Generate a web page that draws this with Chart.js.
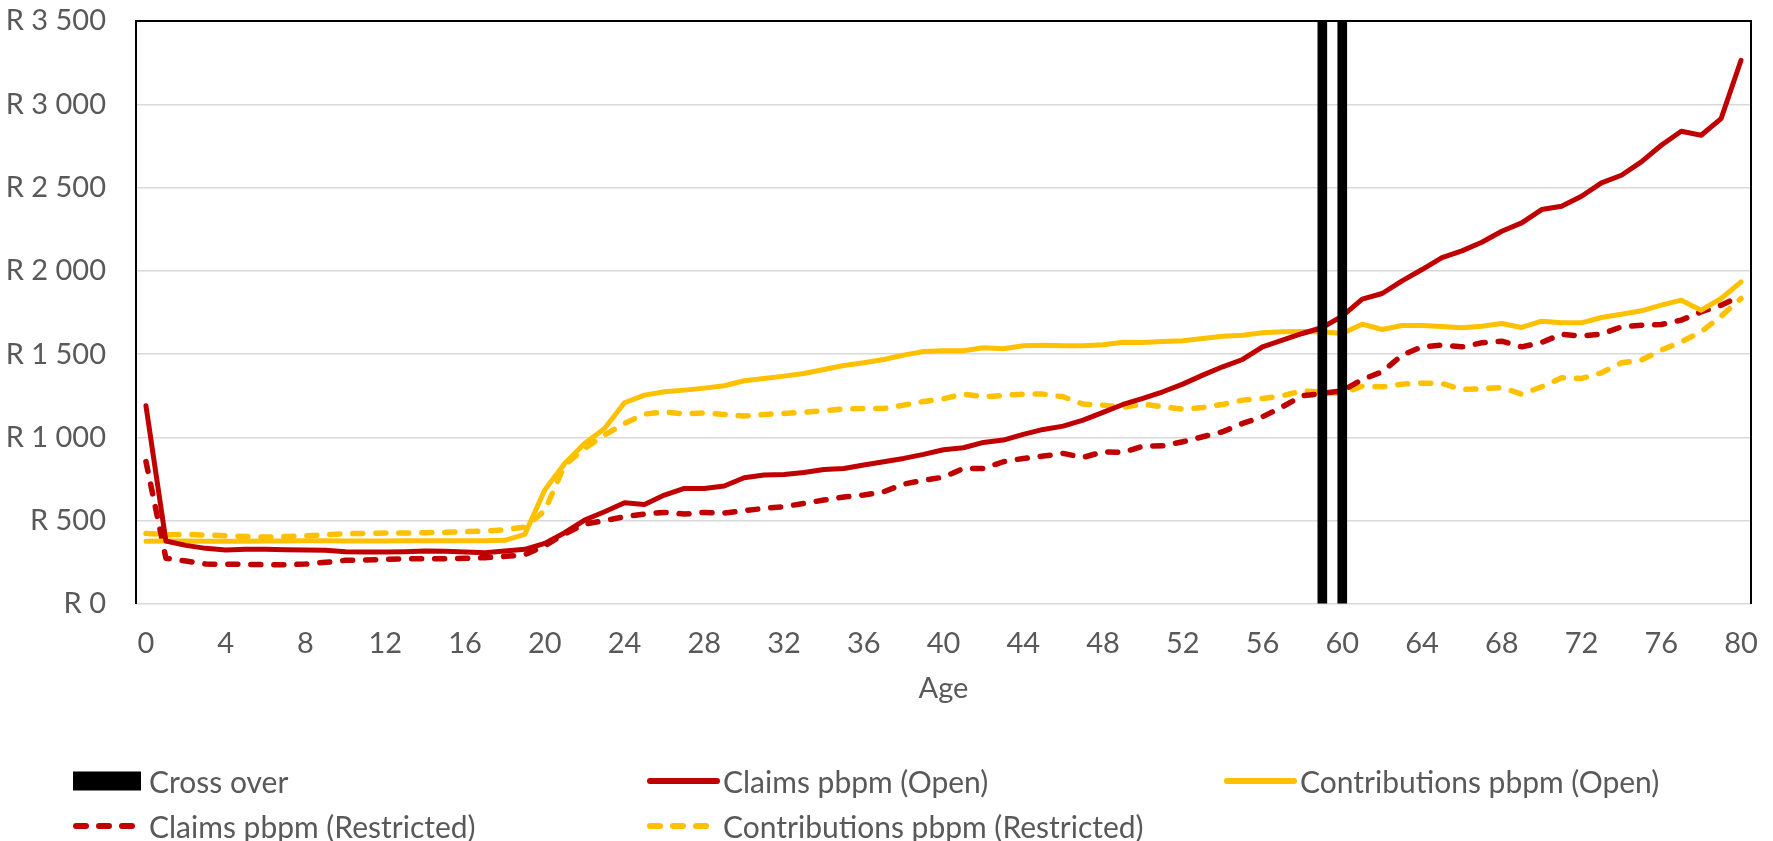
<!DOCTYPE html>
<html>
<head>
<meta charset="utf-8">
<title>Claims and contributions pbpm by age</title>
<script src="https://cdn.jsdelivr.net/npm/chart.js@4.4.0/dist/chart.umd.min.js"></script>
<style>
  html, body { margin: 0; padding: 0; background: #ffffff; }
  #wrap { position: relative; width: 1773px; height: 841px; overflow: hidden; }
  #chart { position: absolute; left: 0; top: 0; }
  #legend { position: absolute; left: 0; top: 0; width: 1773px; height: 841px; pointer-events: none;
            font-family: Lato, "Open Sans", sans-serif; font-size: 30px; color: #595959; }
  .lg-item { position: absolute; height: 40px; white-space: nowrap; }
  .lg-item svg { position: absolute; left: 0; top: 0; }
  .lg-text { position: absolute; left: 76px; top: 0; height: 40px; line-height: 40px; }
</style>
</head>
<body>
<div id="wrap">
  <canvas id="chart" width="1773" height="841"></canvas>
  <div id="legend"></div>
</div>
<script>
// Age categories (years)
const ages = [
  0, 1, 2, 3, 4, 5, 6, 7, 8, 9, 10, 11, 12, 13, 14, 15, 16, 17, 18, 19,
  20, 21, 22, 23, 24, 25, 26, 27, 28, 29, 30, 31, 32, 33, 34, 35, 36, 37, 38, 39,
  40, 41, 42, 43, 44, 45, 46, 47, 48, 49, 50, 51, 52, 53, 54, 55, 56, 57, 58, 59,
  60, 61, 62, 63, 64, 65, 66, 67, 68, 69, 70, 71, 72, 73, 74, 75, 76, 77, 78, 79, 80
];

// Labelled ages on the horizontal axis
const xTickLabels = ['0', '4', '8', '12', '16', '20', '24', '28', '32', '36', '40',
                     '44', '48', '52', '56', '60', '64', '68', '72', '76', '80'];

// Rand values on the vertical axis
const yTickValues = [0, 500, 1000, 1500, 2000, 2500, 3000, 3500];
const yTickLabels = ['R 0', 'R 500', 'R 1 000', 'R 1 500', 'R 2 000', 'R 2 500', 'R 3 000', 'R 3 500'];

// Claims per beneficiary per month, open scheme (R)
const claimsOpen = [
  1190, 378, 352, 334, 324, 328, 328, 326, 324, 322, 314, 312, 312, 314, 318, 316, 312, 308, 318, 328,
  364, 428, 504, 554, 608, 598, 654, 694, 694, 708, 758, 774, 778, 790, 808, 814, 834, 854, 874, 898,
  926, 938, 970, 984, 1018, 1048, 1068, 1104, 1150, 1198, 1234, 1274, 1320, 1374, 1424, 1468, 1544, 1584, 1624, 1660,
  1728, 1830, 1864, 1940, 2008, 2080, 2120, 2172, 2238, 2288, 2368, 2388, 2448, 2528, 2574, 2654, 2754, 2838, 2814, 2914, 3264
];

// Claims per beneficiary per month, restricted scheme (R)
const claimsRestricted = [
  855, 275, 258, 240, 238, 238, 236, 236, 240, 250, 262, 264, 268, 272, 272, 272, 274, 278, 286, 296,
  350, 420, 480, 500, 524, 540, 550, 540, 550, 546, 560, 574, 584, 604, 624, 642, 654, 674, 720, 742,
  762, 814, 814, 854, 874, 888, 904, 880, 914, 910, 948, 950, 974, 1004, 1034, 1084, 1124, 1184, 1250, 1264,
  1280, 1348, 1394, 1494, 1544, 1554, 1544, 1568, 1578, 1544, 1570, 1620, 1608, 1620, 1664, 1674, 1678, 1704, 1754, 1794, 1850
];

// Contributions per beneficiary per month, open scheme (R)
const contributionsOpen = [
  376, 378, 378, 376, 376, 376, 378, 378, 380, 380, 378, 378, 378, 380, 380, 380, 380, 380, 382, 418,
  684, 844, 964, 1054, 1208, 1254, 1274, 1284, 1296, 1310, 1340, 1354, 1368, 1384, 1408, 1432, 1448, 1468, 1494, 1516,
  1520, 1520, 1538, 1532, 1550, 1554, 1550, 1550, 1556, 1572, 1570, 1576, 1580, 1594, 1608, 1614, 1628, 1634, 1636, 1634,
  1624, 1680, 1648, 1672, 1672, 1666, 1658, 1668, 1684, 1660, 1698, 1688, 1688, 1720, 1740, 1760, 1794, 1824, 1764, 1834, 1934
];

// Contributions per beneficiary per month, restricted scheme (R)
const contributionsRestricted = [
  424, 416, 418, 414, 410, 405, 402, 405, 410, 416, 422, 424, 426, 426, 428, 430, 434, 438, 446, 462,
  560, 834, 934, 1014, 1084, 1140, 1154, 1140, 1148, 1138, 1128, 1138, 1144, 1152, 1160, 1172, 1174, 1174, 1194, 1216,
  1232, 1260, 1244, 1252, 1260, 1260, 1244, 1200, 1194, 1180, 1200, 1184, 1170, 1180, 1198, 1224, 1234, 1250, 1280, 1272,
  1264, 1308, 1304, 1320, 1326, 1324, 1288, 1292, 1300, 1260, 1304, 1358, 1354, 1388, 1448, 1464, 1524, 1574, 1634, 1728, 1834
];

// Ages where claims overtake contributions, marked by full-height columns
const crossOverAges = [59, 60];
const crossOverHeight = 3500;

const crossOverData = ages.map(a => crossOverAges.includes(a) ? crossOverHeight : null);

const RED = '#C00000';
const GOLD = '#FFC000';
const TEXT = '#595959';
const FONT = 'Lato, "Open Sans", sans-serif';
const DASH = [10, 13];

// Black frame on the left, top and right of the plot area
const plotFrame = {
  id: 'plotFrame',
  afterDatasetsDraw(chart) {
    const { ctx, chartArea: { left, top, right, bottom } } = chart;
    ctx.save();
    ctx.strokeStyle = '#000000';
    ctx.lineWidth = 2;
    ctx.beginPath();
    ctx.moveTo(left, bottom);
    ctx.lineTo(left, top);
    ctx.lineTo(right, top);
    ctx.lineTo(right, bottom);
    ctx.stroke();
    ctx.restore();
  }
};

function lineSet(label, data, color, dashed) {
  return {
    type: 'line',
    label,
    data,
    borderColor: color,
    backgroundColor: color,
    borderWidth: dashed ? 5.5 : 5,
    borderDash: dashed ? DASH : [],
    borderCapStyle: 'round',
    borderJoinStyle: 'round',
    pointRadius: 0,
    pointHoverRadius: 0,
    tension: 0,
    fill: false,
    order: 1
  };
}

const chart = new Chart(document.getElementById('chart'), {
  type: 'bar',
  data: {
    labels: ages,
    datasets: [
      {
        type: 'bar',
        label: 'Cross over',
        data: crossOverData,
        backgroundColor: '#000000',
        borderWidth: 0,
        barThickness: 9,
        order: 0
      },
      lineSet('Claims pbpm (Open)', claimsOpen, RED, false),
      lineSet('Contributions pbpm (Open)', contributionsOpen, GOLD, false),
      lineSet('Claims pbpm (Restricted)', claimsRestricted, RED, true),
      lineSet('Contributions pbpm (Restricted)', contributionsRestricted, GOLD, true)
    ]
  },
  options: {
    responsive: false,
    animation: false,
    devicePixelRatio: 1,
    layout: { padding: { top: 21, right: 22, bottom: 135, left: 0 } },
    plugins: {
      legend: { display: false },
      tooltip: { enabled: false }
    },
    scales: {
      x: {
        type: 'category',
        offset: true,
        grid: { display: false, drawTicks: false },
        border: { display: false },
        ticks: {
          autoSkip: false,
          maxRotation: 0,
          minRotation: 0,
          padding: 22,
          color: TEXT,
          font: { family: FONT, size: 29 },
          callback(value, index) {
            const lab = String(ages[index]);
            return xTickLabels.includes(lab) ? lab : null;
          }
        },
        title: {
          display: true,
          text: 'Age',
          color: TEXT,
          padding: 0,
          font: { family: FONT, size: 29 }
        },
        afterFit(scale) {
          scale.height = 102;
          scale.paddingLeft = 0;
          scale.paddingRight = 0;
        }
      },
      y: {
        min: 0,
        max: 3500,
        grid: { color: '#D9D9D9', lineWidth: 1.5, drawTicks: false },
        border: { display: false },
        afterBuildTicks(scale) {
          scale.ticks = yTickValues.map(v => ({ value: v }));
        },
        ticks: {
          padding: 30,
          color: TEXT,
          font: { family: FONT, size: 29 },
          callback(value) {
            const i = yTickValues.indexOf(value);
            return i >= 0 ? yTickLabels[i] : null;
          }
        },
        afterFit(scale) {
          scale.width = 136;
          scale.paddingTop = 0;
          scale.paddingBottom = 0;
        }
      }
    }
  },
  plugins: [plotFrame]
});

// Legend laid out as a three-column grid under the plot
const legendCells = [
  { ds: 0, left: 73, top: 761 },
  { ds: 1, left: 647, top: 761 },
  { ds: 2, left: 1224, top: 761 },
  { ds: 3, left: 73, top: 806 },
  { ds: 4, left: 647, top: 806 }
];
const legendEl = document.getElementById('legend');
legendCells.forEach(cell => {
  const ds = chart.data.datasets[cell.ds];
  const item = document.createElement('div');
  item.className = 'lg-item';
  item.style.left = cell.left + 'px';
  item.style.top = cell.top + 'px';
  let symbol;
  if (ds.type === 'bar') {
    symbol = '<svg width="70" height="40"><rect x="0" y="10.5" width="68" height="19" fill="' + ds.backgroundColor + '"/></svg>';
  } else if (ds.borderDash.length) {
    symbol = '<svg width="70" height="40"><line x1="3" y1="20" x2="64" y2="20" stroke="' + ds.borderColor +
      '" stroke-width="6" stroke-linecap="round" stroke-dasharray="' + ds.borderDash.join(' ') + '"/></svg>';
  } else {
    symbol = '<svg width="74" height="40"><line x1="3" y1="20" x2="70" y2="20" stroke="' + ds.borderColor +
      '" stroke-width="6" stroke-linecap="round"/></svg>';
  }
  item.innerHTML = symbol + '<span class="lg-text">' + ds.label + '</span>';
  legendEl.appendChild(item);
});
</script>
</body>
</html>
